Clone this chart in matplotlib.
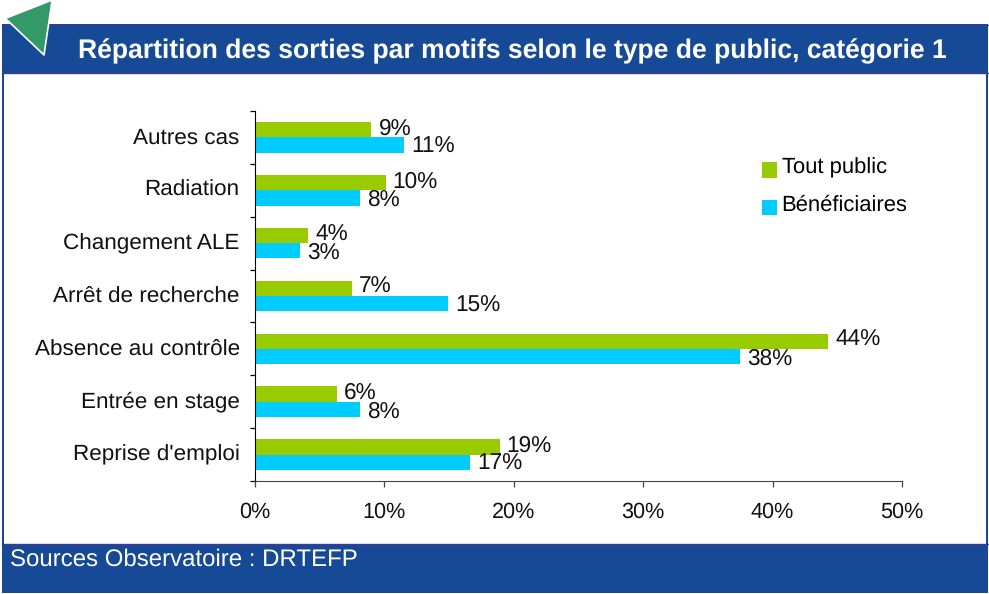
import numpy as np
import matplotlib
matplotlib.use("Agg")
import matplotlib.pyplot as plt
from matplotlib.patches import Rectangle, Polygon

plt.rcParams['font.family'] = ['Liberation Sans', 'DejaVu Sans']
plt.rcParams['text.hinting'] = 'no_hinting'
plt.rcParams['text.hinting_factor'] = 8

categories = ["Reprise d'emploi", "Entrée en stage", "Absence au contrôle",
              "Arrêt de recherche", "Changement ALE", "Radiation", "Autres cas"]
tout_public = [18.9, 6.3, 44.3, 7.5, 4.1, 10.1, 9.0]
beneficiaires = [16.6, 8.1, 37.5, 14.9, 3.5, 8.1, 11.5]
tout_labels = ["19%", "6%", "44%", "7%", "4%", "10%", "9%"]
benef_labels = ["17%", "8%", "38%", "15%", "3%", "8%", "11%"]
x_ticks = [0, 10, 20, 30, 40, 50]

W, H = 989, 594
BLUE = "#164a96"
EDGE = "#3f3a98"
GREEN = "#99cc00"
CYAN = "#00ccff"

fig = plt.figure(figsize=(W / 100, H / 100), dpi=100, facecolor="white")

# page furniture, in pixel coordinates
bg = fig.add_axes([0, 0, 1, 1])
bg.set_xlim(0, W)
bg.set_ylim(H, 0)
bg.autoscale(False)
bg.axis("off")
bg.add_patch(Rectangle((2, 24), 2, 530, fc=BLUE, ec="none"))
bg.add_patch(Rectangle((986, 24), 2, 530, fc=BLUE, ec="none"))
bg.add_patch(Rectangle((2, 24), 986, 49, fc=BLUE, ec="none"))
bg.add_patch(Rectangle((2, 544), 986, 49, fc=BLUE, ec="none"))
bg.plot([2, 988], [24.5, 24.5], color=EDGE, lw=1, zorder=1.5)
bg.plot([2, 988], [73, 73], color=EDGE, lw=1, zorder=1.5)
bg.plot([2, 988], [544, 544], color=EDGE, lw=1, zorder=1.5)
bg.add_patch(Polygon([(6, 19), (52, 1), (44, 55)], fc="#339966", ec="none", zorder=3))
bg.plot([6, 44, 52], [19, 55, 1], color="white", lw=1.2, zorder=4)
bg.text(512, 51.5, "Répartition des sorties par motifs selon le type de public, catégorie 1",
        color="white", fontsize=19.1, fontweight="bold", ha="center", va="center")
bg.text(10, 560, "Sources Observatoire : DRTEFP", color="white", fontsize=17.3, ha="left", va="center")

ax = fig.add_axes([255 / W, 1 - 481 / H, 647 / W, 370 / H])
y = np.arange(len(categories))
h = 0.29
ax.barh(y + h / 2, tout_public, h, color=GREEN, label="Tout public")
ax.barh(y - h / 2, beneficiaires, h, color=CYAN, label="Bénéficiaires")

for i in y:
    ax.annotate(tout_labels[i], (tout_public[i], i + h / 2), xytext=(7, 1),
                textcoords="offset pixels", va="center", fontsize=16.3, color="#111111")
    ax.annotate(benef_labels[i], (beneficiaires[i], i - h / 2), xytext=(7, -2),
                textcoords="offset pixels", va="center", fontsize=16.3, color="#111111")

ax.set_xlim(0, 50)
ax.set_ylim(-0.5, 6.5)
ax.set_xticks(x_ticks)
ax.set_xticklabels([f"{t}%" for t in x_ticks], fontsize=15.6, color="#111111")
ax.set_yticks(np.arange(-0.5, 7, 1))
ax.set_yticklabels([])
ax.set_yticks(y + 0.04, categories, minor=True, fontsize=16.2, color="#111111")
ax.tick_params(axis="y", which="minor", length=0, pad=11)
ax.tick_params(axis="y", which="major", direction="out", length=3.6, width=0.9)
ax.tick_params(axis="x", direction="out", length=4.3, width=0.9, pad=11, color="#444444")
ax.spines["top"].set_visible(False)
ax.spines["right"].set_visible(False)
ax.spines["bottom"].set_color("#444444")
ax.patch.set_alpha(0)

handles, labels = ax.get_legend_handles_labels()
leg = ax.legend(handles, labels, loc="upper left", bbox_to_anchor=(0.784, 0.874), frameon=False,
                fontsize=15.8, handlelength=0.68, handleheight=0.68, handletextpad=0.2,
                labelspacing=0.76, borderpad=0, borderaxespad=0)
# squares sit a bit lower than the text in the original
for p in leg.get_patches():
    p.set_y(p.get_y() - 3)

fig.savefig("out.png", dpi=100)
